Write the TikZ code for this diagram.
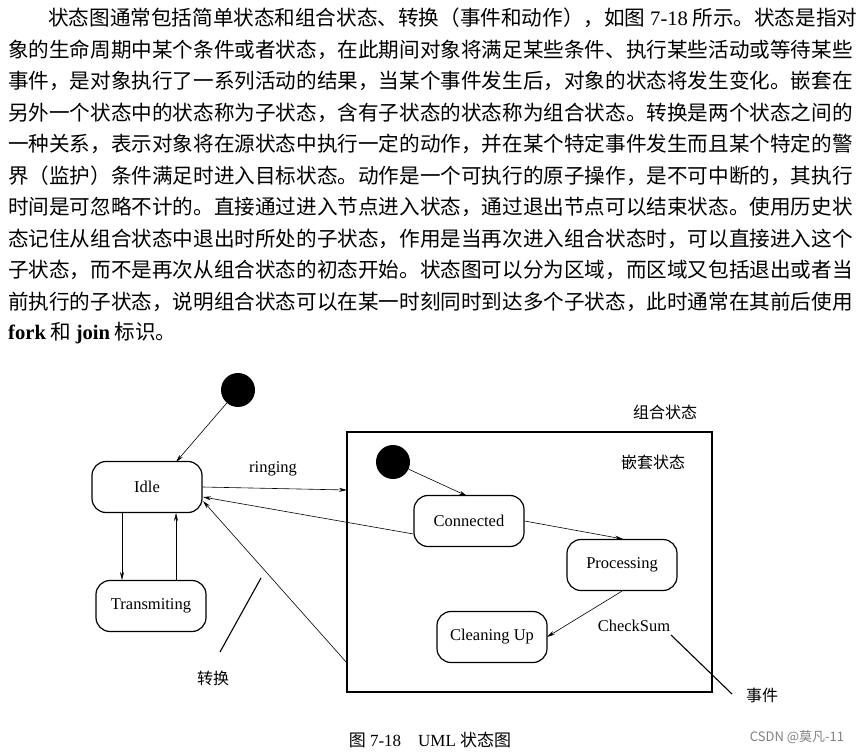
\documentclass[tikz,border=0pt]{standalone}
\usepackage{fontspec}
\setmainfont{Liberation Serif}
\newfontfamily\cjk{Noto Sans CJK SC}
\usetikzlibrary{arrows.meta}
\begin{document}
\begin{tikzpicture}[x=1pt,y=-1pt,
  st/.style={draw,line width=1.2pt,rounded corners=14pt,minimum width=110pt,minimum height=51pt,font=\fontsize{16.5}{18}\selectfont},
  ini/.style={circle,fill=black,minimum size=34pt,inner sep=0pt},
  ar/.style={-{Stealth[length=8pt,width=4pt]},line width=0.6pt},
  para/.style={anchor=west,inner sep=0pt,font=\fontsize{20.6}{22}\selectfont\cjk},
  lbl/.style={font=\fontsize{16}{18}\selectfont\cjk}]
\useasboundingbox (0,0) rectangle (865,754);
\node[para] (l1) at (48,18) {状态图通常包括简单状态和组合状态、转换（事件和动作），如图 {\rmfamily 7-18} 所示。状态是指对};
\node[para] (l2) at (8,50) {象的生命周期中某个条件或者状态，在此期间对象将满足某些条件、执行某些活动或等待某些};
\node[para] (l3) at (8,81) {事件，是对象执行了一系列活动的结果，当某个事件发生后，对象的状态将发生变化。嵌套在};
\node[para] (l4) at (8,113) {另外一个状态中的状态称为子状态，含有子状态的状态称为组合状态。转换是两个状态之间的};
\node[para] (l5) at (8,144) {一种关系，表示对象将在源状态中执行一定的动作，并在某个特定事件发生而且某个特定的警};
\node[para] (l6) at (8,176) {界（监护）条件满足时进入目标状态。动作是一个可执行的原子操作，是不可中断的，其执行};
\node[para] (l7) at (8,207) {时间是可忽略不计的。直接通过进入节点进入状态，通过退出节点可以结束状态。使用历史状};
\node[para] (l8) at (8,239) {态记住从组合状态中退出时所处的子状态，作用是当再次进入组合状态时，可以直接进入这个};
\node[para] (l9) at (8,270) {子状态，而不是再次从组合状态的初态开始。状态图可以分为区域，而区域又包括退出或者当};
\node[para] (l10) at (8,302) {前执行的子状态，说明组合状态可以在某一时刻同时到达多个子状态，此时通常在其前后使用};
\node[para] (l11) at (8,333) {{\rmfamily\bfseries fork} 和 {\rmfamily\bfseries join} 标识。};

\node[ini] (i0) at (238,390) {};
\node[st] (idle) at (147,487) {Idle};
\node[st] (tr) at (151,606) {Transmiting};
\node[draw,line width=1.2pt,minimum width=365pt,minimum height=260pt,inner sep=0pt] (comp) at (529.5,562) {};
\node[lbl] (cl) at (665,412) {组合状态};
\node[lbl] (nl) at (653,462) {嵌套状态};
\node[ini] (i1) at (393,462) {};
\node[st] (con) at (469,521) {Connected};
\node[st] (pro) at (622,565) {Processing};
\node[st] (cle) at (492,637) {Cleaning Up};
\node[font=\fontsize{16.5}{18}\selectfont] (cs) at (634,626) {CheckSum};
\node[lbl] (ev) at (762,695) {事件};
\node[lbl] (zh) at (213,678) {转换};
\node[font=\fontsize{16.5}{18}\selectfont] (rg) at (273,469) {ringing};
\node[font=\fontsize{17}{19}\selectfont] (cap) at (430,740) {{\cjk 图} 7-18\quad UML {\cjk 状态图}};
\node[font=\fontsize{13}{15}\selectfont\cjk,text=gray] (wm) at (797,737) {CSDN @莫凡-11};

\coordinate (c1) at (347,490);
\coordinate (c2) at (347,663);
\coordinate (e1a) at (671,635); \coordinate (e1b) at (732,694);
\coordinate (z1) at (220,652); \coordinate (z2) at (261,578);

\draw[ar] (i0) -- (176,462);
\draw[ar] (idle.east) -- (c1);
\draw[ar] (con.west |- 0,534) -- (203,497);
\draw[ar] (c2) -- (203,501);
\draw[ar] (122,513) -- (122,580);
\draw[ar] (176,580) -- (176,513);
\draw[ar] (i1) -- (467,496);
\draw[ar] (con.east) -- (623,539);
\draw[ar] (pro.south) -- (547,637);
\draw[line width=1.1pt] (e1a) -- (e1b);
\draw[line width=1.1pt] (z1) -- (z2);
\end{tikzpicture}
\end{document}
